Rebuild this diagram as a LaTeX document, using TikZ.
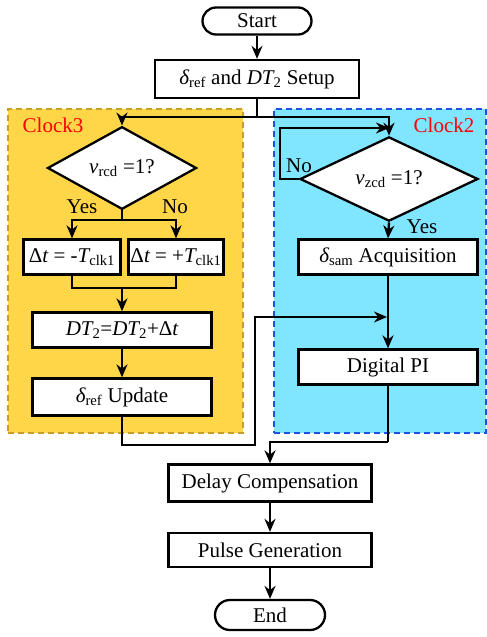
\documentclass[tikz,border=0pt]{standalone}
\usepackage{fontspec}
\setmainfont{Liberation Serif}
\usetikzlibrary{arrows.meta,positioning,shapes.geometric}
\definecolor{clkgold}{RGB}{255,214,72}
\definecolor{clkgoldline}{RGB}{200,158,40}
\definecolor{clkcyan}{RGB}{128,229,255}
\definecolor{clkblueline}{RGB}{30,80,225}
\newcommand{\sbs}[1]{\textsubscript{#1}}

\begin{document}
\begin{tikzpicture}[x=1pt,y=-1pt,
  font=\fontsize{21}{25}\selectfont,
  procbox/.style={draw,line width=2.3pt,fill=white,inner sep=0pt,minimum height=35pt},
  termbox/.style={draw,line width=2.3pt,fill=white,rounded corners=13.5pt,inner sep=0pt,minimum height=27pt},
  decbox/.style={draw,line width=2.3pt,fill=white,diamond,inner sep=0pt},
  clkbox/.style={line width=1.5pt,dash pattern=on 6pt off 4pt,inner sep=0pt},
  flow/.style={line width=2.3pt},
  arr/.style={flow,-{Stealth[length=13pt,width=11pt]}},
  clklabel/.style={text=red}]
  \useasboundingbox (0,0) rectangle (487,637);
  % Clock regions
  \node[clkbox,draw=clkgoldline,fill=clkgold,minimum width=235pt,minimum height=324pt] (clk3) at (125.5,271) {};
  \node[clkbox,draw=clkblueline,fill=clkcyan,minimum width=212pt,minimum height=324pt] (clk2) at (380,271) {};
  \node[clklabel] (clk3lbl) at (53,125) {Clock3};
  \node[clklabel] (clk2lbl) at (444,125) {Clock2};
  % Main column
  \node[termbox,minimum width=109pt] (start) at (257,21) {Start};
  \node[procbox,minimum width=204pt,minimum height=38pt] (setup) at (257,79) {{\itshape δ}\sbs{ref} and {\itshape DT}\sbs{2} Setup};
  % Clock3 branch
  \node[decbox,minimum width=149pt,minimum height=58pt] (rcd) at (122,168) {{\itshape v}\sbs{rcd} =1?};
  \node[procbox,minimum width=97pt] (tneg) at (72,257) {Δ{\itshape t} = -{\itshape T}\sbs{clk1}};
  \node[procbox,minimum width=95pt] (tpos) at (176,257) {Δ{\itshape t} = +{\itshape T}\sbs{clk1}};
  \node[procbox,minimum width=179pt] (dt) at (122,330) {{\itshape DT}\sbs{2}={\itshape DT}\sbs{2}+Δ{\itshape t}};
  \node[procbox,minimum width=179pt,minimum height=37pt] (upd) at (122,397) {{\itshape δ}\sbs{ref} Update};
  % Clock2 branch
  \node[decbox,minimum width=178pt,minimum height=58pt] (zcd) at (389,179) {{\itshape v}\sbs{zcd} =1?};
  \node[procbox,minimum width=179pt] (sam) at (388,257) {{\itshape δ}\sbs{sam} Acquisition};
  \node[procbox,minimum width=179pt] (pi) at (388,367) {Digital PI};
  % Output
  \node[procbox,minimum width=203pt,minimum height=37pt] (delay) at (270,483) {Delay Compensation};
  \node[procbox,minimum width=203pt,minimum height=34pt] (pulse) at (270,550) {Pulse Generation};
  \node[termbox,minimum width=110pt,minimum height=30pt,rounded corners=15pt] (end) at (270,615) {End};
  % Branch points
  \coordinate (split) at (257,117);
  \coordinate (loopin) at (389,128);
  \coordinate (fork) at (122,220);
  \coordinate (join) at (122,288);
  \coordinate (piin) at (387,317);
  \coordinate (bend) at (388,442);
  % Connectors
  \draw[arr] (start) -- (setup);
  \draw[flow] (setup) -- (split);
  \draw[arr] (split) -| (rcd.north);
  \draw[arr] (split) -| (zcd.north);
  \draw[arr] (zcd.west) -- ++(-19,0) |- (loopin);
  \node (zno) at (299,166) {No};
  \draw[arr] (zcd.south) -- (sam.north);
  \node (zyes) at (422,227) {Yes};
  \draw[arr] (sam.south) -- (pi.north);
  \draw[flow] (rcd.south) -- (fork);
  \draw[arr] (fork) -| (tneg.north);
  \draw[arr] (fork) -| (tpos.north);
  \node (ryes) at (82,207) {Yes};
  \node (rno) at (175,207) {No};
  \draw[flow] (tneg.south) |- (join);
  \draw[flow] (tpos.south) |- (join);
  \draw[arr] (join) -- (dt.north);
  \draw[arr] (dt) -- (upd);
  \draw[arr] (upd.south) -- ++(0,28) -| (255,317) -- (piin);
  \draw[flow] (pi.south) -- (bend);
  \draw[arr] (bend) -| (delay.north);
  \draw[arr] (delay) -- (pulse);
  \draw[arr] (pulse) -- (end);
\end{tikzpicture}
\end{document}
